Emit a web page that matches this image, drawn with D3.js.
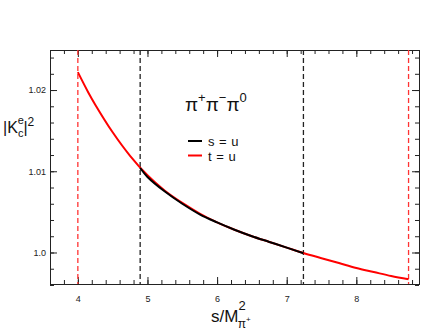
<!DOCTYPE html>
<html>
<head>
<meta charset="utf-8">
<script src="https://cdn.jsdelivr.net/npm/d3@7"></script>
<style>
  body { margin: 0; background: #fff; }
  svg text { font-family: "Liberation Sans", Arial, sans-serif; }
</style>
</head>
<body>
<div id="chart"></div>
<script>
// t = u curve (red)
var sRed = [4.0, 4.15, 4.25, 4.5, 4.75, 5.0, 5.25, 5.5, 5.75, 6.0, 6.25, 6.5, 6.75, 7.0, 7.25, 7.5, 7.75, 8.0, 8.25, 8.5, 8.75];
var vRed = [1.0222, 1.0197, 1.0182, 1.0148, 1.0119, 1.0095, 1.0076, 1.0061, 1.0048, 1.0037, 1.0028, 1.0020, 1.0013, 1.0006, 0.9999, 0.9993, 0.9987, 0.9981, 0.9976, 0.9971, 0.9967];
// s = u curve (black)
var sBlack = [4.895, 5.0, 5.25, 5.5, 5.75, 6.0, 6.25, 6.5, 6.75, 7.0, 7.24];
var vBlack = [1.0104, 1.0093, 1.0075, 1.0060, 1.0047, 1.0037, 1.0028, 1.0020, 1.0013, 1.0006, 0.9999];
// dashed boundaries
var redBounds = [4.0, 8.75];
var blackBounds = [4.895, 7.24];

var xMajor = [4, 5, 6, 7, 8];
var yMajor = [1.0, 1.01, 1.02];
var yLabels = ["1.0", "1.01", "1.02"];

var width = 447, height = 335;
var margin = {top: 50, right: 28, bottom: 51, left: 50};

var svg = d3.select("#chart").append("svg")
  .attr("width", width)
  .attr("height", height);

var x = d3.scaleLinear().domain([3.6, 8.9]).range([margin.left, width - margin.right]);
var y = d3.scaleLinear().domain([0.99612, 1.02493]).range([height - margin.bottom, margin.top]);

var xMinor = d3.range(3.6, 8.9, 0.2).map(function(d) { return +d.toFixed(1); });
var yMinor = d3.range(0.996, 1.025, 0.002).map(function(d) { return +d.toFixed(3); });

var plotTop = margin.top, plotBottom = height - margin.bottom;
var plotLeft = margin.left, plotRight = width - margin.right;

// axes: ticks pointing inward on all four sides
function styleAxis(g) {
  g.select(".domain").attr("stroke", "#222");
  g.selectAll(".tick line").attr("stroke", "#222");
}

svg.append("g").attr("transform", "translate(0," + plotBottom + ")")
  .call(d3.axisBottom(x).tickValues(xMinor).tickSize(-4).tickFormat("")).call(styleAxis);
svg.append("g").attr("transform", "translate(0," + plotBottom + ")")
  .call(d3.axisBottom(x).tickValues(xMajor).tickSize(-7).tickPadding(12).tickFormat(d3.format("d")))
  .call(styleAxis)
  .selectAll("text").attr("font-size", 9).attr("fill", "#222");
svg.append("g").attr("transform", "translate(0," + plotTop + ")")
  .call(d3.axisTop(x).tickValues(xMinor).tickSize(-4).tickFormat("")).call(styleAxis);
svg.append("g").attr("transform", "translate(0," + plotTop + ")")
  .call(d3.axisTop(x).tickValues(xMajor).tickSize(-7).tickFormat("")).call(styleAxis);

svg.append("g").attr("transform", "translate(" + plotLeft + ",0)")
  .call(d3.axisLeft(y).tickValues(yMinor).tickSize(-4).tickFormat("")).call(styleAxis);
svg.append("g").attr("transform", "translate(" + plotLeft + ",0)")
  .call(d3.axisLeft(y).tickValues(yMajor).tickSize(-7).tickPadding(4)
    .tickFormat(function(d, i) { return yLabels[i]; }))
  .call(styleAxis)
  .selectAll("text").attr("font-size", 9).attr("fill", "#222");
svg.append("g").attr("transform", "translate(" + plotRight + ",0)")
  .call(d3.axisRight(y).tickValues(yMinor).tickSize(-4).tickFormat("")).call(styleAxis);
svg.append("g").attr("transform", "translate(" + plotRight + ",0)")
  .call(d3.axisRight(y).tickValues(yMajor).tickSize(-7).tickFormat("")).call(styleAxis);

// dashed vertical boundaries
svg.selectAll(".redb").data(redBounds).enter().append("line")
  .attr("x1", function(d) { return x(d); }).attr("x2", function(d) { return x(d); })
  .attr("y1", plotTop).attr("y2", plotBottom)
  .attr("stroke", "#f33").attr("stroke-width", 1.3).attr("stroke-dasharray", "5,3");
svg.selectAll(".blackb").data(blackBounds).enter().append("line")
  .attr("x1", function(d) { return x(d); }).attr("x2", function(d) { return x(d); })
  .attr("y1", plotTop).attr("y2", plotBottom)
  .attr("stroke", "#222").attr("stroke-width", 1.3).attr("stroke-dasharray", "5,3");

var line = d3.line()
  .x(function(d) { return x(d[0]); })
  .y(function(d) { return y(d[1]); })
  .curve(d3.curveCatmullRom);

svg.append("path")
  .datum(d3.zip(sRed, vRed))
  .attr("d", line).attr("fill", "none").attr("stroke", "#f00").attr("stroke-width", 2);
svg.append("path")
  .datum(d3.zip(sBlack, vBlack))
  .attr("d", line).attr("fill", "none").attr("stroke", "#000").attr("stroke-width", 2);

// title
var title = svg.append("text").attr("x", 185).attr("y", 111).attr("font-size", 19).attr("fill", "#111");
title.append("tspan").text("π");
title.append("tspan").attr("dy", -9).attr("font-size", 13).text("+");
title.append("tspan").attr("dy", 9).text("π");
title.append("tspan").attr("dy", -9).attr("font-size", 13).text("−");
title.append("tspan").attr("dy", 9).text("π");
title.append("tspan").attr("dy", -9).attr("font-size", 13).text("0");

// legend
var legendData = [{name: "s = u", color: "#000"}, {name: "t = u", color: "#f00"}];
var lg = svg.append("g");
lg.selectAll("line").data(legendData).enter().append("line")
  .attr("x1", 188).attr("x2", 202)
  .attr("y1", function(d, i) { return 141 + i * 14.5; })
  .attr("y2", function(d, i) { return 141 + i * 14.5; })
  .attr("stroke", function(d) { return d.color; }).attr("stroke-width", 2);
lg.selectAll("text").data(legendData).enter().append("text")
  .attr("x", 208)
  .attr("y", function(d, i) { return 146 + i * 14.5; })
  .attr("font-size", 13).attr("letter-spacing", 0.5).attr("fill", "#111")
  .text(function(d) { return d.name; });

// y label |K_c^e|^2
var yl = svg.append("text").attr("x", 3).attr("y", 133).attr("font-size", 16).attr("fill", "#111");
yl.append("tspan").text("|K");
yl.append("tspan").attr("dy", -9).attr("font-size", 11).text("e");
yl.append("tspan").attr("dx", -6).attr("dy", 13).attr("font-size", 11).text("c");
yl.append("tspan").attr("dy", -4).text("|");
yl.append("tspan").attr("dy", -7).attr("font-size", 12).text("2");

// x label s/M_{pi+}^2
var xl = svg.append("text").attr("x", 211).attr("y", 322).attr("font-size", 17).attr("fill", "#111");
xl.append("tspan").text("s/M");
xl.append("tspan").attr("dy", -12).attr("font-size", 13).text("2");
xl.append("tspan").attr("dx", -8).attr("dy", 18).attr("font-size", 12).text("π");
xl.append("tspan").attr("dy", -6).attr("font-size", 8).text("+");
</script>
</body>
</html>
